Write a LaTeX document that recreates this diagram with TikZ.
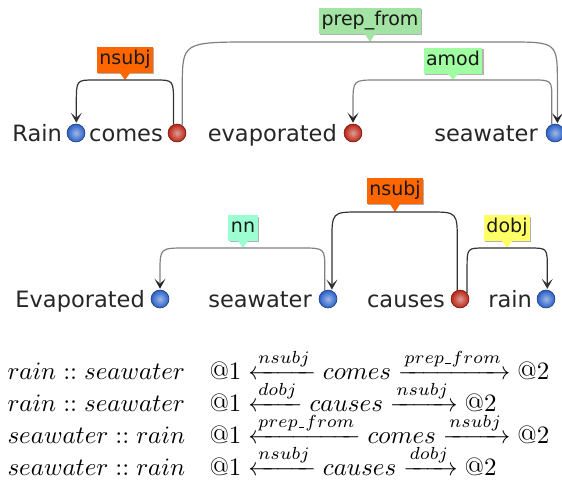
\documentclass[tikz,border=0pt]{standalone}
\usepackage{amsmath}
\usepackage{fontspec}
\newfontfamily\dvs{DejaVu Sans}
\usetikzlibrary{arrows.meta,shadows,calc}
\definecolor{dotblue}{RGB}{40,95,200}
\definecolor{dotred}{RGB}{185,35,20}
\definecolor{cnsubj}{RGB}{255,102,0}
\definecolor{cprep}{RGB}{163,227,163}
\definecolor{camod}{RGB}{160,255,160}
\definecolor{cnn}{RGB}{155,255,210}
\definecolor{cdobj}{RGB}{255,255,102}
\newcommand{\usc}{\text{\kern.06em\vbox{\hrule width.3em}\kern.06em}}
\begin{document}
\begin{tikzpicture}[x=1pt,y=-1pt,
  word/.style={anchor=base east,inner sep=0pt,font=\dvs\fontsize{22.5}{26}\selectfont,text=black!85},
  bdot/.style={circle,inner sep=0pt,minimum size=18pt,draw=dotblue!55!black,line width=0.5pt,
    shading=radial,inner color=dotblue!45!white,outer color=dotblue},
  rdot/.style={circle,inner sep=0pt,minimum size=18pt,draw=dotred!55!black,line width=0.5pt,
    shading=radial,inner color=dotred!45!white,outer color=dotred},
  lab/.style={anchor=south,inner xsep=2.5pt,inner ysep=3.5pt,text height=14pt,text depth=4.5pt,
    font=\dvs\fontsize{19}{22}\selectfont,text=black!90,
    drop shadow={shadow xshift=1.2pt,shadow yshift=-1.2pt,fill=black,opacity=0.3}},
  arcd/.style={draw=black!80,line width=1.2pt,-{Stealth[length=10pt,width=11pt,inset=5pt]},shorten >=1pt},
  arcg/.style={draw=black!50,line width=1.2pt,-{Stealth[length=10pt,width=11pt,inset=5pt,color=black!85]},shorten >=1pt},
  mathl/.style={anchor=base west,inner sep=0pt,font=\normalsize,scale=2.5,transform shape},
]
\useasboundingbox (0,0) rectangle (562,495);

% ---- sentence 1 ----
\node[word] (w1) at (62,141) {Rain};
\node[bdot] (r1) at (76,133) {};
\node[word] (w2) at (163,141) {comes};
\node[rdot] (c1) at (177,133) {};
\node[word] (w3) at (337,141) {evaporated};
\node[rdot] (e1) at (353,133) {};
\node[word] (w4) at (538,141) {seawater};
\node[bdot] (s1) at (555,133) {};

\node[lab,fill=cnsubj] (L1) at (125,73) {nsubj};
\coordinate (t1) at (125,80);
\fill[cnsubj] ([xshift=-5pt]L1.south) -- (t1) -- ([xshift=5pt]L1.south) -- cycle;
\node[lab,fill=cprep] (L2) at (370,34) {prep\_from};
\coordinate (t2) at (370,42);
\fill[cprep] ([xshift=-5pt]L2.south) -- (t2) -- ([xshift=5pt]L2.south) -- cycle;
\node[lab,fill=camod] (L3) at (453,74) {amod};
\coordinate (t3) at (453,80);
\fill[camod] ([xshift=-5pt]L3.south) -- (t3) -- ([xshift=5pt]L3.south) -- cycle;

\draw[arcd] (c1.112) -- ($(c1.112|-t1)+(0,24)$) .. controls (c1.112|-t1) .. ($(c1.112|-t1)+(-18,0)$)
  -- ($(r1.88|-t1)+(18,0)$) .. controls (r1.88|-t1) .. ($(r1.88|-t1)+(0,24)$) -- (r1.88);
\draw[arcg] (c1.55) -- ($(c1.55|-t2)+(0,45)$) .. controls (c1.55|-t2) .. ($(c1.55|-t2)+(72,0)$)
  -- ($(s1.75|-t2)+(-50,0)$) .. controls (s1.75|-t2) .. ($(s1.75|-t2)+(0,42)$) -- (s1.75);
\draw[arcg] (s1.110) -- ($(s1.110|-t3)+(0,20)$) .. controls (s1.110|-t3) .. ($(s1.110|-t3)+(-20,0)$)
  -- ($(e1.north|-t3)+(24,0)$) .. controls (e1.north|-t3) .. ($(e1.north|-t3)+(0,24)$) -- (e1.north);

% ---- sentence 2 ----
\node[word] (v1) at (145,307) {Evaporated};
\node[bdot] (ev) at (160,299) {};
\node[word] (v2) at (312,307) {seawater};
\node[bdot] (sw) at (328,299) {};
\node[word] (v3) at (445,307) {causes};
\node[rdot] (ca) at (460,299) {};
\node[word] (v4) at (532,307) {rain};
\node[bdot] (ra) at (546,299) {};

\node[lab,fill=cnn] (L4) at (243,241) {nn};
\coordinate (t4) at (243,248);
\fill[cnn] ([xshift=-5pt]L4.south) -- (t4) -- ([xshift=5pt]L4.south) -- cycle;
\node[lab,fill=cnsubj] (L5) at (395,204) {nsubj};
\coordinate (t5) at (395,212);
\fill[cnsubj] ([xshift=-5pt]L5.south) -- (t5) -- ([xshift=5pt]L5.south) -- cycle;
\node[lab,fill=cdobj] (L6) at (507,241) {dobj};
\coordinate (t6) at (507,248);
\fill[cdobj] ([xshift=-5pt]L6.south) -- (t6) -- ([xshift=5pt]L6.south) -- cycle;

\draw[arcg] (sw.110) -- ($(sw.110|-t4)+(0,22)$) .. controls (sw.110|-t4) .. ($(sw.110|-t4)+(-24,0)$)
  -- ($(ev.north|-t4)+(26,0)$) .. controls (ev.north|-t4) .. ($(ev.north|-t4)+(0,24)$) -- (ev.north);
\draw[arcd] (ca.107) -- ($(ca.107|-t5)+(0,30)$) .. controls (ca.107|-t5) .. ($(ca.107|-t5)+(-28,0)$)
  -- ($(sw.65|-t5)+(28,0)$) .. controls (sw.65|-t5) .. ($(sw.65|-t5)+(0,30)$) -- (sw.65);
\draw[arcd] (ca.40) -- ($(ca.40|-t6)+(0,20)$) .. controls (ca.40|-t6) .. ($(ca.40|-t6)+(18,0)$)
  -- ($(ra.82|-t6)+(-18,0)$) .. controls (ra.82|-t6) .. ($(ra.82|-t6)+(0,20)$) -- (ra.82);

% ---- paths ----
\node[mathl] (p1l) at (7,379) {$rain :: seawater$};
\node[mathl] (p1r) at (209,379) {$@1 \xleftarrow{nsubj} comes \xrightarrow{prep\usc from} @2$};
\node[mathl] (p2l) at (7,411) {$rain :: seawater$};
\node[mathl] (p2r) at (209,411) {$@1 \xleftarrow{dobj} causes \xrightarrow{nsubj} @2$};
\node[mathl] (p3l) at (7,443) {$seawater :: rain$};
\node[mathl] (p3r) at (209,443) {$@1 \xleftarrow{prep\usc from} comes \xrightarrow{nsubj} @2$};
\node[mathl] (p4l) at (7,475) {$seawater :: rain$};
\node[mathl] (p4r) at (209,475) {$@1 \xleftarrow{nsubj} causes \xrightarrow{dobj} @2$};
\end{tikzpicture}
\end{document}
